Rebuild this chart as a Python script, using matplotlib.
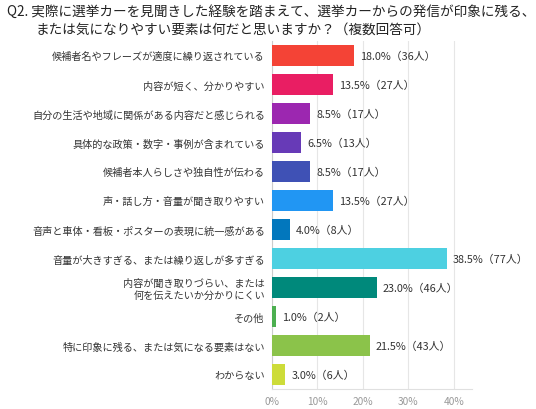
import matplotlib
matplotlib.use('Agg')
import matplotlib.pyplot as plt
import numpy as np

plt.rcParams['font.family'] = ['Noto Sans CJK JP', 'DejaVu Sans']

# データ
labels = [
    '候補者名やフレーズが適度に繰り返されている',
    '内容が短く、分かりやすい',
    '自分の生活や地域に関係がある内容だと感じられる',
    '具体的な政策・数字・事例が含まれている',
    '候補者本人らしさや独自性が伝わる',
    '声・話し方・音量が聞き取りやすい',
    '音声と車体・看板・ポスターの表現に統一感がある',
    '音量が大きすぎる、または繰り返しが多すぎる',
    '内容が聞き取りづらい、または\n何を伝えたいか分かりにくい',
    'その他',
    '特に印象に残る、または気になる要素はない',
    'わからない',
]
percent = [18.0, 13.5, 8.5, 6.5, 8.5, 13.5, 4.0, 38.5, 23.0, 1.0, 21.5, 3.0]
people = [36, 27, 17, 13, 17, 27, 8, 77, 46, 2, 43, 6]
colors = ['#F44336', '#E91E63', '#9C27B0', '#673AB7', '#3F51B5', '#2196F3',
          '#0277BD', '#4DD0E1', '#00897B', '#4CAF50', '#8BC34A', '#CDDC39']
xticks = [0, 10, 20, 30, 40]

fig = plt.figure(figsize=(5.36, 4.10), dpi=100)
ax = fig.add_axes([0.507, 0.049, 0.374, 0.849])

y = np.arange(len(labels))
ax.barh(y, percent, height=0.72, color=colors, zorder=3)
for yi, p, n in zip(y, percent, people):
    ax.text(p + 1.3, yi, '%.1f%%（%d人）' % (p, n), va='center', ha='left',
            fontsize=7.8, color='#333333')

ax.set_ylim(len(labels) - 0.5, -0.5)
ax.set_xlim(0, 44)
ax.set_yticks(y)
ax.set_yticklabels(labels, fontsize=7.3, color='#333333')
ax.set_xticks(xticks)
ax.set_xticklabels(['%d%%' % t for t in xticks], fontsize=7.3, color='#999999')
ax.tick_params(axis='y', length=0, pad=5)
ax.tick_params(axis='x', length=0, pad=5)
ax.grid(axis='x', color='#e6e6e6', linewidth=0.8, zorder=0)
for s in ['top', 'right']:
    ax.spines[s].set_visible(False)
ax.spines['left'].set_color('#cccccc')
ax.spines['bottom'].set_color('#e0e0e0')

fig.text(0.013, 0.972, 'Q2. 実際に選挙カーを見聞きした経験を踏まえて、選挙カーからの発信が印象に残る、',
         fontsize=9.8, color='#222222', va='center', ha='left')
fig.text(0.066, 0.927, 'または気になりやすい要素は何だと思いますか？（複数回答可）',
         fontsize=9.8, color='#222222', va='center', ha='left')

fig.savefig('out.png', dpi=100)
